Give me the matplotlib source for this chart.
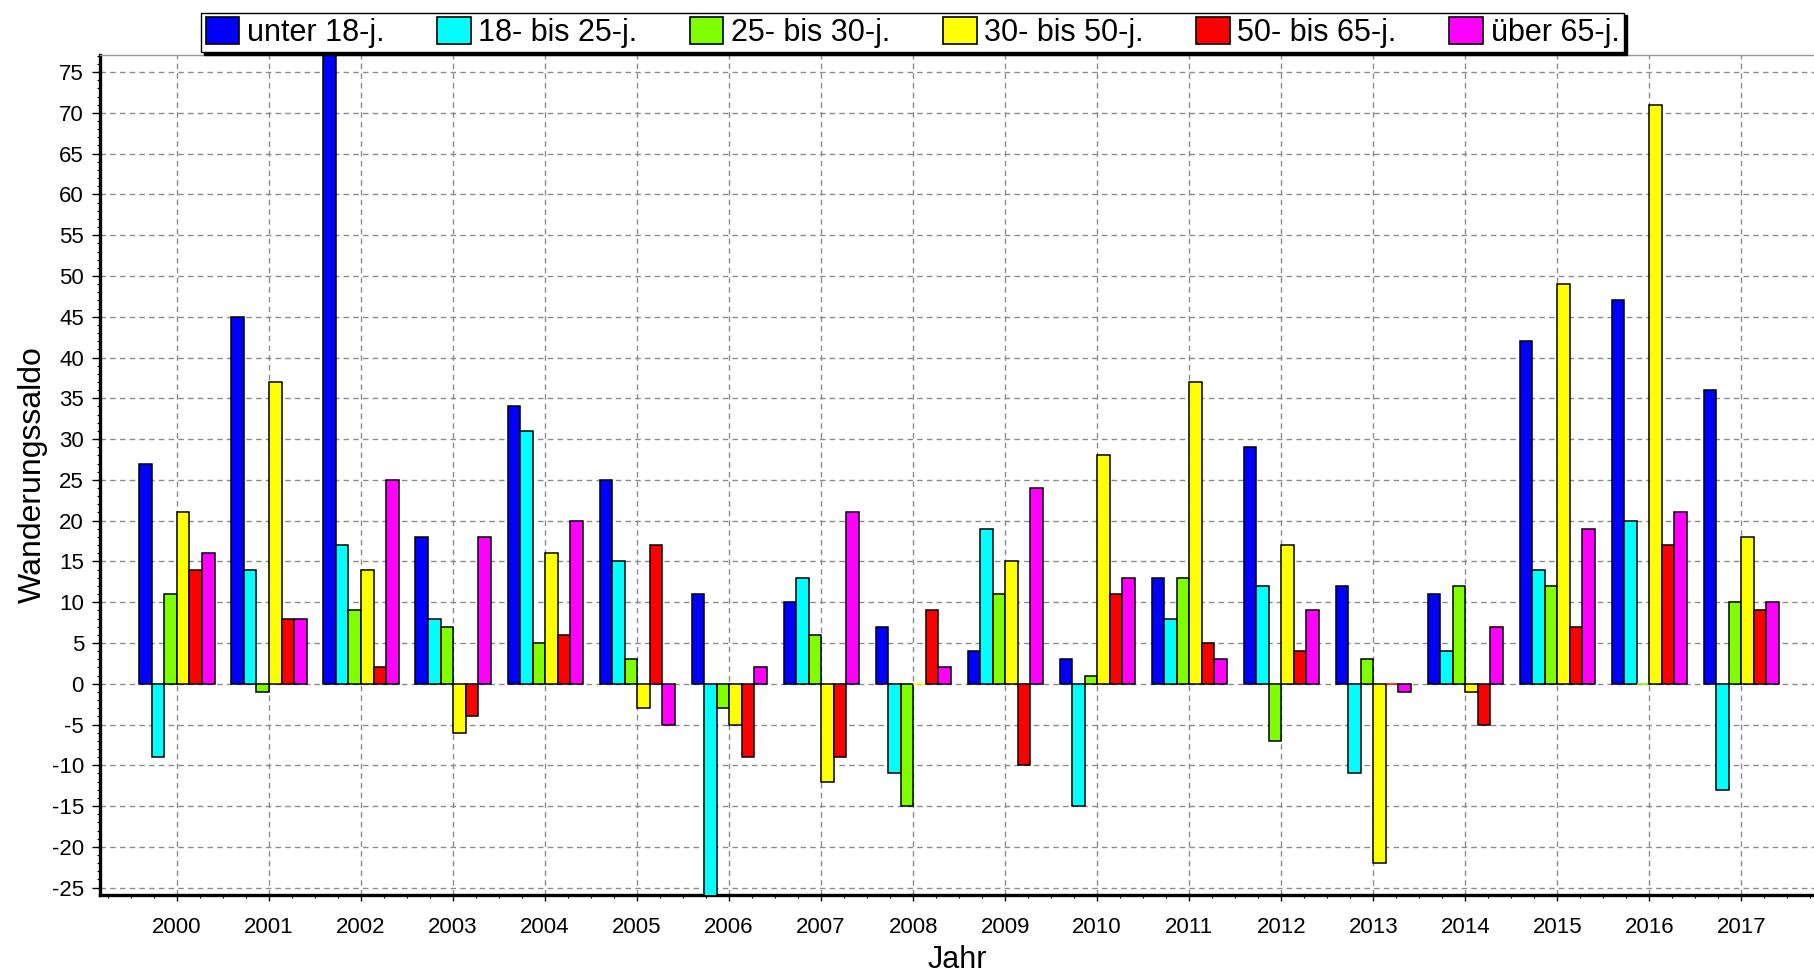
import numpy as np
import matplotlib.pyplot as plt
from matplotlib.patches import Patch
from matplotlib.ticker import MultipleLocator

plt.rcParams['font.family'] = ['Liberation Sans', 'DejaVu Sans']
plt.rcParams['axes.unicode_minus'] = False

# Daten (Wanderungssaldo nach Altersgruppen)
jahre = list(range(2000, 2018))
unter_18 = [27, 45, 80, 18, 34, 25, 11, 10, 7, 4, 3, 13, 29, 12, 11, 42, 47, 36]
bis_25 = [-9, 14, 17, 8, 31, 15, -27, 13, -11, 19, -15, 8, 12, -11, 4, 14, 20, -13]
bis_30 = [11, -1, 9, 7, 5, 3, -3, 6, -15, 11, 1, 13, -7, 3, 12, 12, 0, 10]
bis_50 = [21, 37, 14, -6, 16, -3, -5, -12, 0, 15, 28, 37, 17, -22, -1, 49, 71, 18]
bis_65 = [14, 8, 2, -4, 6, 17, -9, -9, 9, -10, 11, 5, 4, 0, -5, 7, 17, 9]
ueber_65 = [16, 8, 25, 18, 20, -5, 2, 21, 2, 24, 13, 3, 9, -1, 7, 19, 21, 10]

labels = ['unter 18-j.', '18- bis 25-j.', '25- bis 30-j.',
          '30- bis 50-j.', '50- bis 65-j.', 'über 65-j.']
farben = ['#0000ff', '#00ffff', '#80ff00', '#ffff00', '#ff0000', '#ff00ff']
reihen = [unter_18, bis_25, bis_30, bis_50, bis_65, ueber_65]

fig = plt.figure(figsize=(18.14, 9.73), dpi=100)
ax = fig.add_axes([0.0551, 0.0802, 0.9449, 0.8633])

x = np.array(jahre, dtype=float)
w = 0.136
for i, (werte, farbe) in enumerate(zip(reihen, farben)):
    werte = np.array(werte)
    kanten = ['black' if v != 0 else farbe for v in werte]
    ax.bar(x + (i - 2.5) * w, werte, width=w, color=farbe,
           edgecolor=kanten, linewidth=1.1, zorder=3)

ax.set_xlim(1999.163, 2017.79)
ax.set_ylim(-25.9, 77.1)
ax.set_xticks(jahre)
ax.yaxis.set_major_locator(MultipleLocator(5))
ax.yaxis.set_minor_locator(MultipleLocator(1))
ax.xaxis.set_minor_locator(MultipleLocator(0.25))

ax.grid(True, which='major', color='#8c8c8c', linestyle=(0, (4, 3)),
        linewidth=1.0)
ax.set_axisbelow(True)

ax.tick_params(axis='both', which='major', direction='out', labelsize=16,
               length=5.5, width=1.0, pad=6)
ax.tick_params(axis='both', which='minor', direction='out', length=2.5,
               width=0.8)
ax.tick_params(axis='x', which='major', length=4, pad=12)

for s in ['left', 'bottom']:
    ax.spines[s].set_linewidth(2.4)
ax.spines['top'].set_color('#999999')
ax.spines['top'].set_linewidth(1.0)
ax.spines['right'].set_visible(False)

ax.set_xlabel('Jahr', fontsize=22, labelpad=5)
ax.set_ylabel('Wanderungssaldo', fontsize=23, labelpad=3)

handles = [Patch(facecolor=f, edgecolor='black', linewidth=1.2) for f in farben]
fig.legend(handles, labels, loc='center', bbox_to_anchor=(0.503, 0.9666),
           ncol=6, fontsize=22, frameon=True, fancybox=False,
           edgecolor='black', framealpha=1, borderpad=0.15,
           handlelength=1.1, handleheight=0.95, handletextpad=0.25,
           columnspacing=1.72, borderaxespad=0,
           shadow={'color': 'black', 'alpha': 1.0})

fig.savefig('out.png', dpi=100)
